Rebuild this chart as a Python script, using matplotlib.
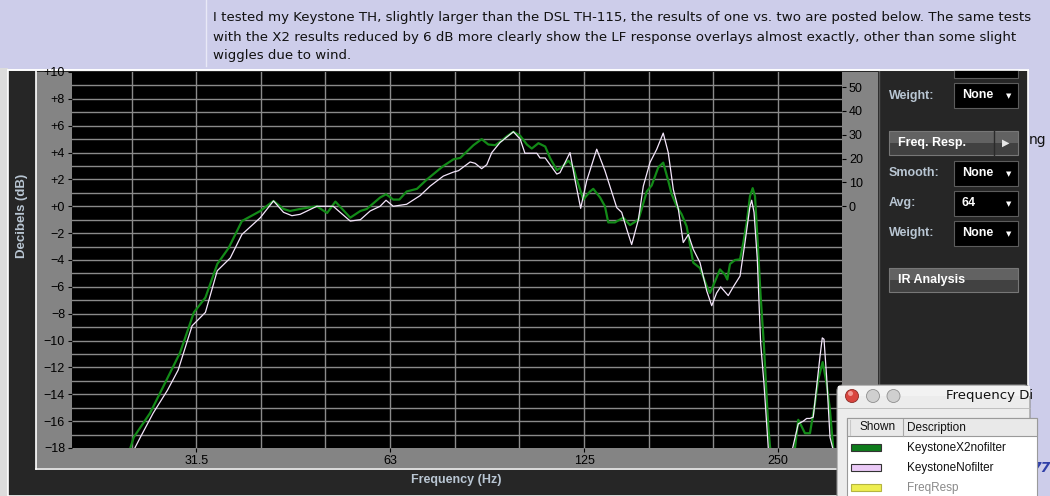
import matplotlib
matplotlib.use("Agg")
import matplotlib.pyplot as plt
from matplotlib.patches import Rectangle, FancyBboxPatch, Circle
import numpy as np

W, H = 1050, 496
LAV, DARK, GRAY = "#cdcdea", "#262626", "#848484"
GREEN, PINK = "#138a18", "#f4e6fb"
LBL = "#b9c6d3"

POST = ["I tested my Keystone TH, slightly larger than the DSL TH-115, the results of one vs. two are posted below. The same tests",
        "with the X2 results reduced by 6 dB more clearly show the LF response overlays almost exactly, other than some slight",
        "wiggles due to wind."]

# KeystoneX2nofilter (green)
freq_x2 = [24.4, 24.7, 25.0, 26.5, 27.8, 29.5, 31.0, 32.3, 33.7, 35.1,
           36.8, 39.3, 41.2, 42.7, 43.7, 45.3, 48.1, 49.9, 51.4, 54.2,
           56.2, 57.5, 60.3, 61.6, 63.2, 64.6, 66.3, 68.8, 71.3, 74.7,
           75.6, 78.4, 80.3, 84.2, 86.7, 88.8, 91.0, 93.2, 94.8, 97.1,
           99.5, 101.9, 103.7, 106.2, 108.8, 110.7, 113.4, 115.4, 118.2, 120.3,
           121.8, 124.7, 127.7, 129.2, 132.4, 134.7, 136.3, 139.6, 143.8, 147.3,
           151.8, 153.6, 156.4, 159.2, 163.0, 165.9, 168.9, 171.0, 174.1, 177.2,
           180.4, 184.7, 189.2, 193.8, 196.1, 199.6, 203.2, 206.9, 208.6, 210.6,
           214.4, 218.3, 220.9, 223.6, 226.2, 228.4, 230.3, 232.2, 235.0, 237.8,
           240.1, 241.5, 243.0, 247.3, 261.0, 265.7, 268.8, 272.1, 275.3, 280.3,
           285.3, 288.7, 293.3, 297.5, 301.1, 304.6, 306.5]
db_x2 = [-19, -18.0, -17.2, -15.4, -13.4, -10.9, -7.9, -6.8, -4.3, -3.1,
         -1.1, -0.35, 0.4, -0.2, -0.35, -0.2, 0.0, -0.5, 0.35, -0.85,
         -0.35, -0.2, 0.65, 0.9, 0.5, 0.5, 1.1, 1.3, 2.0, 2.8,
         3.0, 3.5, 3.6, 4.55, 5.0, 4.6, 4.55, 4.9, 5.2, 5.55,
         5.25, 4.6, 4.3, 4.7, 4.45, 3.6, 2.7, 2.9, 3.4, 2.9,
         2.0, 0.5, 1.1, 1.3, 0.65, 0.0, -1.2, -1.2, -0.85, -1.4,
         -1.0, -0.2, 1.1, 1.55, 2.9, 3.25, 1.9, 0.9, 0.0, -0.6,
         -1.5, -4.2, -4.6, -5.95, -6.45, -5.6, -4.7, -5.1, -5.45, -4.3,
         -4.0, -3.95, -2.7, -1.2, 0.75, 1.35, 0.75, -2.2, -6.7, -10.4,
         -14.2, -16.4, -17.9, -20, -20, -18.0, -15.9, -16.4, -16.9, -16.9,
         -14.7, -12.9, -11.6, -13.2, -15.2, -18.0, -19]

# KeystoneNofilter (white)
freq_x1 = [24.8, 25.1, 25.6, 26.8, 28.2, 29.3, 30.8, 32.3, 33.7, 35.3,
           36.8, 39.3, 41.2, 42.7, 44.0, 45.3, 48.1, 51.0, 54.2, 56.2,
           58.2, 60.3, 61.6, 63.2, 66.3, 69.6, 72.1, 75.6, 78.4, 79.8,
           83.2, 84.7, 86.7, 88.3, 89.9, 92.6, 97.1, 99.5, 101.2, 105.6,
           106.8, 108.8, 110.7, 113.4, 114.7, 118.9, 121.0, 123.5, 126.2, 130.8,
           134.7, 140.5, 143.0, 145.6, 148.2, 151.8, 154.5, 158.2, 162.1, 165.9,
           168.9, 172.0, 175.1, 178.2, 181.5, 184.7, 189.2, 193.8, 197.3, 200.8,
           203.7, 209.3, 213.1, 218.3, 222.2, 226.2, 227.6, 229.5, 232.2, 235.0,
           237.8, 240.1, 241.5, 243.0, 262.8, 263.5, 268.8, 273.7, 277.0, 280.3,
           283.6, 287.1, 290.5, 292.9, 294.7, 297.5, 301.1, 304.0, 305.5]
db_x1 = [-19, -18.0, -17.2, -15.4, -13.7, -12.2, -8.9, -7.9, -4.8, -3.85,
         -2.1, -0.85, 0.4, -0.45, -0.7, -0.6, 0.0, 0.0, -1.1, -1.0,
         -0.35, 0.0, 0.45, 0.0, 0.15, 0.8, 1.5, 2.25, 2.55, 2.65,
         3.3, 3.2, 2.8, 3.1, 4.0, 4.75, 5.55, 5.0, 3.95, 3.95,
         3.6, 3.6, 3.1, 2.4, 2.5, 4.0, 2.0, -0.15, 1.9, 4.25,
         2.65, -0.1, -0.45, -1.7, -2.85, -1.0, 1.5, 3.25, 4.25, 5.45,
         4.0, 1.25, -0.2, -2.7, -2.1, -3.2, -4.2, -6.3, -7.4, -6.45,
         -6.0, -6.65, -6.0, -5.2, -2.7, 0.0, 0.45, -0.45, -3.95, -10.2,
         -13.2, -16.2, -18.0, -19, -19, -18.0, -16.2, -16.0, -15.8, -15.8,
         -15.7, -13.4, -11.2, -9.8, -9.9, -12.7, -17.2, -18.0, -19]

freq_ticks = [31.25, 62.5, 125, 250]
freq_labels = ["31.5", "63", "125", "250"]
db_ticks = list(range(-18, 11, 2))
db_labels = [("+%d" % v if v >= 0 else "\u2212%d" % -v) for v in db_ticks]
right_ticks = [0, 10, 20, 30, 40, 50]
RIGHT_PER_DB = 5.63

legend_names = ["KeystoneX2nofilter", "KeystoneNofilter", "FreqResp"]
legend_colors = ["#0e7c1c", "#ebcaf7", "#eeee50"]

TICKFONT = dict(family="Liberation Sans", size=9)

fig = plt.figure(figsize=(W / 100, H / 100), dpi=100)

# ---------- background / window chrome in pixel coords ----------
bg = fig.add_axes([0, 0, 1, 1], zorder=0)
bg.set_xlim(0, W); bg.set_ylim(H, 0); bg.axis("off")
bg.add_patch(Rectangle((0, 0), W, H, fc=LAV, ec="none"))
bg.plot([206, 206], [0, 66], color="#e9e9f7", lw=1)
for i, line in enumerate(POST):
    bg.text(213, 18 + i * 19, line, fontsize=9.6, family="DejaVu Sans", va="center", color="#111")
bg.add_patch(Rectangle((0, 68), 8, H - 68, fc="#dcdcdc", ec="none"))
bg.add_patch(Rectangle((8, 70), 1020, H - 70, fc=DARK, ec="white", lw=1.2))
bg.add_patch(Rectangle((36, 72), 842, 396, fc=GRAY, ec="none"))
bg.plot([35.5, 35.5], [71, 468.5], color="white", lw=1.2)
bg.plot([35.5, 878], [468.5, 468.5], color="white", lw=1.2)
bg.plot([878.5, 878.5], [71, 468.5], color="#555", lw=1)
bg.text(22, 216, "Decibels (dB)", rotation=90, color=LBL, fontsize=9.5, weight="bold",
        family="Liberation Sans", ha="center", va="center")
bg.text(456, 480, "Frequency (Hz)", color=LBL, fontsize=9, weight="bold",
        family="Liberation Sans", ha="center", va="center")

# right control panel
ctl = dict(family="Liberation Sans", weight="bold", fontsize=9, va="center")


def dropdown(y0, value):
    bg.add_patch(Rectangle((954, y0), 64, 25, fc="black", ec="#5c5c5c", lw=0.8))
    bg.text(962, y0 + 12.5, value, color="white", **ctl)
    bg.text(1009, y0 + 13.5, "\u25BC", color="white", fontsize=5, ha="center", va="center")


def button(y0, label, arrow=False):
    bg.add_patch(Rectangle((889, y0), 129, 12, fc="#626262", ec="none"))
    bg.add_patch(Rectangle((889, y0 + 12), 129, 12, fc="#414141", ec="none"))
    bg.add_patch(Rectangle((889, y0), 129, 24, fc="none", ec="#777", lw=0.8))
    bg.text(898, y0 + 12, label, color="white", **ctl)
    if arrow:
        bg.plot([993.5, 993.5], [y0, y0 + 24], color="#2a2a2a", lw=1)
        bg.text(1006, y0 + 12, "\u25B6", color="#e8e8e8", fontsize=7, ha="center", va="center")


bg.add_patch(Rectangle((954, 62), 64, 16, fc="black", ec="#5c5c5c", lw=0.8))
bg.add_patch(Rectangle((880, 60), 148, 10.3, fc=LAV, ec="none"))
bg.plot([8, 1028], [70.4, 70.4], color="white", lw=1.2)
bg.text(889, 96, "Weight:", color=LBL, **ctl)
dropdown(83, "None")
button(131, "Freq. Resp.", arrow=True)
bg.text(889, 173, "Smooth:", color=LBL, **ctl)
dropdown(161, "None")
bg.text(889, 203, "Avg:", color=LBL, **ctl)
dropdown(191, "64")
bg.text(889, 233, "Weight:", color=LBL, **ctl)
dropdown(221, "None")
button(268, "IR Analysis")
bg.text(1029, 140, "ng", fontsize=10, family="DejaVu Sans", va="center", color="#111")
bg.text(1032, 468, "77", fontsize=10, weight="bold", style="italic", color="#3040a8", va="center")

# ---------- the response plot ----------
L, T, R, B = 72, 72, 842, 448
ax = fig.add_axes([L / W, 1 - B / H, (R - L) / W, (B - T) / H], zorder=2)
ax.set_facecolor("black")
ax.set_xscale("log")
ax.set_xlim(20.05, 314.3)
ax.set_ylim(-18, 10)
for s in ax.spines.values():
    s.set_visible(False)
for n in range(-7, 4):
    ax.axvline(125 * 2 ** (n / 3), color="#8a8a8a", lw=1, zorder=1)
for v in range(-17, 10):
    ax.axhline(v, color="#8a8a8a", lw=1, zorder=1)
ax.plot(freq_x2, db_x2, color=GREEN, lw=1.6, zorder=3)
ax.plot(freq_x1, db_x1, color=PINK, lw=0.9, zorder=4)

ax.xaxis.set_minor_locator(plt.NullLocator())
ax.set_xticks(freq_ticks)
ax.set_xticklabels(freq_labels, fontdict=TICKFONT)
ax.set_yticks(db_ticks)
ax.set_yticklabels(db_labels, fontdict=TICKFONT)
ax.tick_params(direction="out", length=3, width=0.8, color="black", pad=2, labelcolor="black")

ax2 = ax.twinx()
ax2.set_zorder(3)
ax2.patch.set_visible(False)
ax2.set_ylim(-18 * RIGHT_PER_DB, 10 * RIGHT_PER_DB)
ax2.set_yticks(right_ticks)
ax2.set_yticklabels([str(v) for v in right_ticks], fontdict=TICKFONT)
ax2.tick_params(direction="out", length=3, width=0.8, color="black", pad=2, labelcolor="black")
for s in ax2.spines.values():
    s.set_visible(False)

# ---------- floating legend dialog ----------
fg = fig.add_axes([0, 0, 1, 1], zorder=5)
fg.patch.set_visible(False)
fg.set_xlim(0, W); fg.set_ylim(H, 0); fg.axis("off")
fg.add_patch(FancyBboxPatch((837, 385), 193, 130, boxstyle="round,pad=0,rounding_size=6",
                            fc="#ececec", ec="#8c8c8c", lw=0.8))
fg.add_patch(Rectangle((838, 386), 192, 10, fc="#f2f2f2", ec="none"))
fg.plot([838, 1030], [408, 408], color="#b8b8b8", lw=0.6)
fg.add_patch(Circle((852, 396), 6.5, fc="#d9453f", ec="#8a2a25", lw=0.6))
fg.add_patch(Circle((850.5, 393.5), 2.5, fc="#f29a95", ec="none"))
for cx in (873, 893.5):
    fg.add_patch(Circle((cx, 396), 6.5, fc="#cfcfcf", ec="#8f8f8f", lw=0.6))
fg.text(946, 396, "Frequency Di", fontsize=9.5, family="DejaVu Sans", va="center", color="#111")
fg.add_patch(Rectangle((847, 418), 190, 90, fc="white", ec="#9a9a9a", lw=0.8))
fg.add_patch(Rectangle((847, 418), 190, 18, fc="#e9e9e9", ec="#9a9a9a", lw=0.8))
fg.plot([903, 903], [419, 436], color="#a8a8a8", lw=0.8)
fg.plot([850, 850], [420, 435], color="#c8c8c8", lw=0.8)
leg = dict(family="Liberation Sans", fontsize=8.5, va="center")
fg.text(859, 427.5, "Shown", color="#111", **leg)
fg.text(907, 427.5, "Description", color="#111", **leg)
for i, (name, col) in enumerate(zip(legend_names, legend_colors)):
    y = 447.5 + 20 * i
    fg.add_patch(Rectangle((851, y - 3.5), 30, 7, fc=col, ec="#333" if i < 2 else "#b5b540", lw=0.8))
    fg.text(907, y, name, color="#111" if i < 2 else "#8a8a8a", **leg)

fig.savefig("out.png", dpi=100, facecolor=LAV)
